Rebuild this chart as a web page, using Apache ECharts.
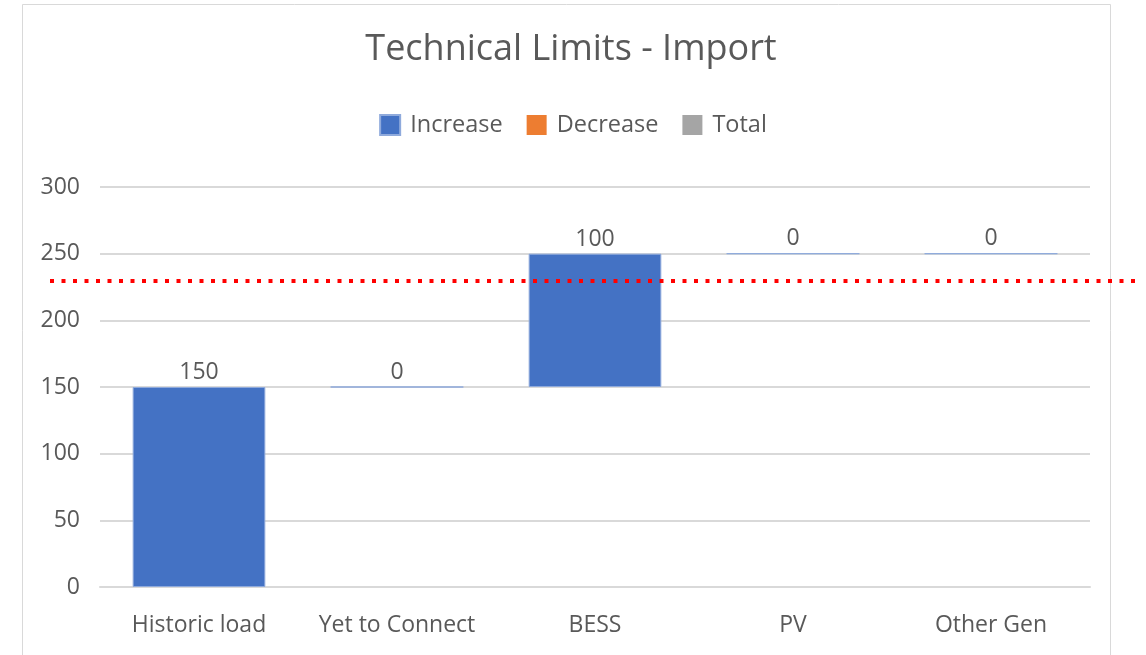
<!DOCTYPE html>
<html><head><meta charset="utf-8">
<script src="https://cdn.jsdelivr.net/npm/echarts@6/dist/echarts.min.js"></script>
<style>html,body{margin:0;padding:0;background:#fff}#c{width:1146px;height:655px}</style>
</head><body><div id="c"></div>
<script>
const categories = ['Historic load', 'Yet to Connect', 'BESS', 'PV', 'Other Gen'];
const baseValues = [0, 150, 150, 250, 250];
const increaseValues = [150, 0, 100, 0, 0];
const decreaseValues = [0, 0, 0, 0, 0];
const totalValues = [0, 0, 0, 0, 0];
const limitValue = 230;
const yTicks = { min: 0, max: 300, interval: 50 };

const font = '"Open Sans", "Noto Sans", sans-serif';
const textColor = '#595959';
const chart = echarts.init(document.getElementById('c'), null, { renderer: 'canvas' });
chart.setOption({
  backgroundColor: '#fff',
  animation: false,
  title: {
    text: 'Technical Limits - Import', left: 566, top: 27, textAlign: 'center',
    textStyle: { fontFamily: font, fontSize: 36, fontWeight: 'normal', color: textColor }
  },
  legend: {
    top: 108, left: 'center', itemWidth: 20, itemHeight: 20, itemGap: 24, icon: 'rect',
    data: ['Increase', 'Decrease', 'Total'],
    textStyle: { fontFamily: font, fontSize: 23.5, color: textColor, padding: [0, 0, 0, 5] }
  },
  graphic: [{
    type: 'rect', shape: { x: 22.5, y: 4.5, width: 1088, height: 700 },
    style: { fill: 'none', stroke: '#d9d9d9', lineWidth: 1 }, z: -1, silent: true
  }],
  grid: [
    { left: 100, right: 56, top: 187, bottom: 68 },
    { left: 50, right: 11, top: 187, bottom: 68 }
  ],
  xAxis: [
    { type: 'category', data: categories, gridIndex: 0,
      axisLine: { lineStyle: { color: '#d9d9d9', width: 2 } }, axisTick: { show: false },
      axisLabel: { interval: 0, fontFamily: font, fontSize: 23, color: textColor, margin: 27 } },
    { type: 'value', gridIndex: 1, show: false, min: 0, max: 1 }
  ],
  yAxis: [
    { type: 'value', gridIndex: 0, min: yTicks.min, max: yTicks.max, interval: yTicks.interval,
      axisLine: { show: false }, axisTick: { show: false },
      splitLine: { lineStyle: { color: '#d9d9d9', width: 2 } },
      axisLabel: { fontFamily: font, fontSize: 23, color: textColor, margin: 20 } },
    { type: 'value', gridIndex: 1, show: false, min: yTicks.min, max: yTicks.max }
  ],
  series: [
    { name: 'base', type: 'bar', stack: 'w', data: baseValues, barCategoryGap: '33%',
      itemStyle: { color: 'transparent' }, silent: true },
    { name: 'Increase', type: 'bar', stack: 'w', data: increaseValues,
      itemStyle: { color: '#4472C4', borderColor: '#8faadc', borderWidth: 1 },
      label: { show: true, position: 'top', distance: 3, fontFamily: font, fontSize: 23, color: textColor } },
    { name: 'Decrease', type: 'bar', stack: 'w', data: decreaseValues, itemStyle: { color: '#ED7D31' } },
    { name: 'Total', type: 'bar', stack: 'w', data: totalValues, itemStyle: { color: '#A5A5A5' } },
    { name: 'limit', type: 'line', xAxisIndex: 1, yAxisIndex: 1, data: [], z: 10,
      markLine: { symbol: 'none', silent: true, label: { show: false },
        lineStyle: { color: '#ff0000', width: 4, type: [4, 7.5] },
        data: [{ yAxis: limitValue }] } }
  ]
});
</script></body></html>
